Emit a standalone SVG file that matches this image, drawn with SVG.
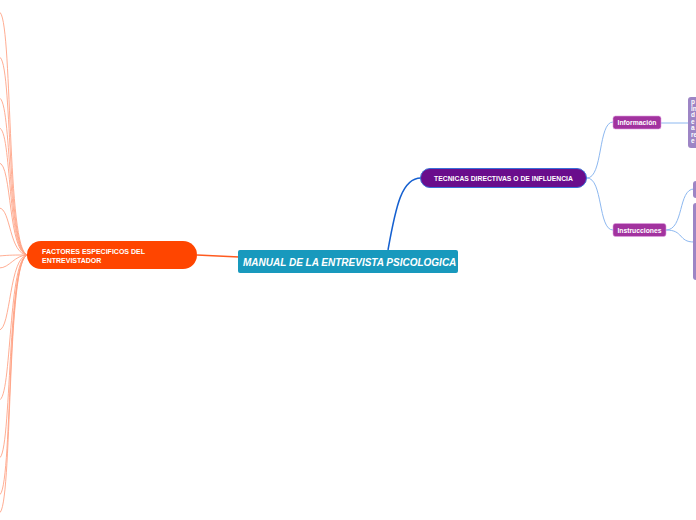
<svg xmlns="http://www.w3.org/2000/svg" width="696" height="520" viewBox="0 0 696 520">
<style>
.t{font-family:"Liberation Sans",Arial,sans-serif;font-weight:bold;fill:#fff}
.lc{fill:none;stroke:#ff9f80;stroke-width:1;opacity:0.85}
.bc{fill:none;stroke:#8db8f0;stroke-width:1}
.sub{fill:#a2339f;stroke:#e0a0e0;stroke-width:0.6}
.lav{fill:#9d85c5}
</style>
<rect width="696" height="520" fill="#fff"/>
<g id="connectors">
  <g>
    <path class="lc" d="M28 255 C6 255 13 12 -1 12"/>
    <path class="lc" d="M28 255 C6 255 13 57 -1 57"/>
    <path class="lc" d="M28 255 C7 255 12 98 -1 98"/>
    <path class="lc" d="M28 255 C7 255 12 128 -1 128"/>
    <path class="lc" d="M28 255 C8 255 12 163 -1 163"/>
    <path class="lc" d="M28 255 C9 255 11 208 -1 208"/>
    <path class="lc" d="M28 255 C14 255 10 255 -1 256"/>
    <path class="lc" d="M28 255 C14 255 10 268 -1 268"/>
    <path class="lc" d="M28 255 C9 255 11 330 -1 330"/>
    <path class="lc" d="M28 255 C8 255 12 400 -1 400"/>
    <path class="lc" d="M28 255 C7 255 12 458 -1 458"/>
    <path class="lc" d="M28 255 C6 255 13 495 -1 495"/>
    <path class="lc" d="M28 255 C6 255 13 513 -1 513"/>
  </g>
  <path d="M197 255 L239 257" fill="none" stroke="#ff5a1f" stroke-width="1.5"/>
  <path d="M388 250 C396 205 402 178 421 178" fill="none" stroke="#1560d0" stroke-width="1.5"/>
  <path class="bc" d="M587 178 C603 178 598 122 613 122"/>
  <path class="bc" d="M587 178 C603 178 598 230 613 230"/>
  <path class="bc" d="M661 123 L689 123"/>
  <path class="bc" d="M666 230 C684 230 678 189 694 189"/>
  <path class="bc" d="M666 230 C684 230 678 242 694 242"/>
</g>
<g id="node-main">
  <rect x="238" y="250" width="220" height="23" rx="2" fill="#1899bd"/>
  <text class="t" x="243" y="265.5" font-size="10" font-style="italic">MANUAL DE LA ENTREVISTA PSICOLOGICA</text>
</g>
<g id="node-factores">
  <rect x="27" y="241" width="170" height="28" rx="14" fill="#ff4500"/>
  <text class="t" x="42" y="254" font-size="7">FACTORES ESPECIFICOS DEL</text>
  <text class="t" x="42" y="262.5" font-size="7">ENTREVISTADOR</text>
</g>
<g id="node-tecnicas">
  <rect x="420.5" y="168.5" width="166" height="19" rx="9.5" fill="#6a0d8c" stroke="#3a6fd8" stroke-width="1"/>
  <text class="t" x="503.5" y="180.5" font-size="6.8" text-anchor="middle">TECNICAS DIRECTIVAS O DE INFLUENCIA</text>
</g>
<g id="node-informacion">
  <rect class="sub" x="613" y="116" width="48" height="13" rx="2.5"/>
  <text class="t" x="637" y="125" font-size="6.8" text-anchor="middle">Información</text>
</g>
<g id="node-informacion-text">
  <rect class="lav" x="688" y="97" width="14" height="51" rx="3"/>
  <g class="t" font-size="6.5">
    <text x="691" y="104">p</text>
    <text x="691" y="110.5">in</text>
    <text x="691" y="117">d</text>
    <text x="691" y="123.5">e</text>
    <text x="691" y="130">a</text>
    <text x="691" y="136.5">re</text>
    <text x="691" y="143">e</text>
  </g>
</g>
<g id="node-instrucciones">
  <rect class="sub" x="613" y="223.5" width="53" height="13" rx="2.5"/>
  <text class="t" x="639.5" y="232.5" font-size="6.8" text-anchor="middle">Instrucciones</text>
</g>
<g id="node-instr-a">
  <rect class="lav" x="693" y="181" width="10" height="17" rx="3"/>
</g>
<g id="node-instr-b">
  <rect class="lav" x="693" y="203" width="10" height="77" rx="3"/>
</g>
</svg>
